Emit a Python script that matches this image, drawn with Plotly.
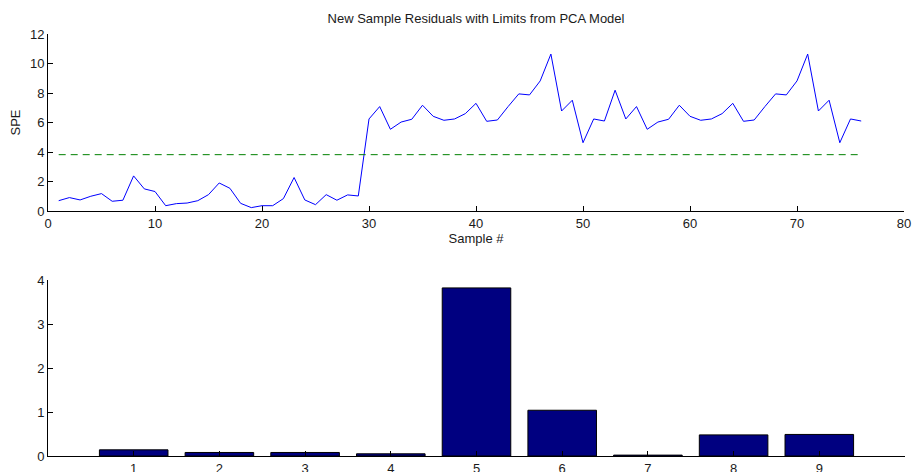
import plotly.graph_objects as go

# Top plot data: SPE per sample
sample = list(range(1, 77))
spe = [0.70, 0.91, 0.75, 1.00, 1.18, 0.66, 0.73, 2.38, 1.50, 1.32,
       0.36, 0.50, 0.54, 0.70, 1.11, 1.90, 1.54, 0.52, 0.23, 0.36,
       0.36, 0.84, 2.27, 0.75, 0.43, 1.11, 0.73, 1.09, 1.02, 6.24,
       7.08, 5.54, 6.03, 6.22, 7.17, 6.42, 6.15, 6.24, 6.60, 7.30,
       6.08, 6.17, 7.08, 7.94, 7.87, 8.82, 10.64, 6.78, 7.51, 4.63,
       6.24, 6.10, 8.19, 6.24, 7.08, 5.54, 6.03, 6.22, 7.17, 6.42,
       6.15, 6.24, 6.60, 7.30, 6.08, 6.17, 7.08, 7.94, 7.87, 8.82,
       10.64, 6.78, 7.51, 4.63, 6.24, 6.10]
spe_limit = 3.82

# Bottom plot data: contributions
variables = [1, 2, 3, 4, 5, 6, 7, 8, 9]
contrib = [0.14, 0.08, 0.08, 0.05, 3.82, 1.04, 0.02, 0.48, 0.49]

FONT = "Liberation Sans, Arial, sans-serif"
FS = 13

fig = go.Figure()
fig.add_trace(go.Scatter(x=sample, y=spe, mode="lines",
                         line=dict(color="#0000ff", width=1),
                         xaxis="x", yaxis="y", showlegend=False))
fig.add_trace(go.Scatter(x=[sample[0], sample[-1]], y=[spe_limit, spe_limit], mode="lines",
                         line=dict(color="#008000", width=1, dash="7px,5px"),
                         xaxis="x", yaxis="y", showlegend=False))
fig.add_trace(go.Bar(x=variables, y=contrib, width=0.8,
                     marker=dict(color="#000080", line=dict(color="#000000", width=1)),
                     xaxis="x2", yaxis="y2", showlegend=False))

axis_common = dict(showline=True, linecolor="#000000", linewidth=1,
                   ticks="inside", tickcolor="#000000", ticklen=5, tickwidth=1,
                   showgrid=False, zeroline=False, mirror=False, automargin=False,
                   tickfont=dict(family=FONT, size=FS, color="#1a1a1a"))

fig.update_layout(
    width=914, height=472,
    margin=dict(l=0, r=0, t=0, b=0, autoexpand=False),
    paper_bgcolor="white", plot_bgcolor="white",
    font=dict(family=FONT, size=FS, color="#000000"),
    title=dict(text="New Sample Residuals with Limits from PCA Model",
               x=476/914, xanchor="center", y=1-18/472, yanchor="middle",
               xref="paper", yref="paper", automargin=False,
               font=dict(family=FONT, size=FS, color="#1a1a1a")),
    xaxis=dict(domain=[48/914, 904/914], range=[0, 80], tickvals=[0, 10, 20, 30, 40, 50, 60, 70, 80],
               anchor="y", title=dict(text="Sample #", standoff=3,
                                      font=dict(family=FONT, size=FS, color="#1a1a1a")),
               **axis_common),
    yaxis=dict(domain=[1-211/472, 1-34/472], range=[0, 12], tickvals=[0, 2, 4, 6, 8, 10, 12],
               anchor="x", title=dict(text="SPE", standoff=6,
                                      font=dict(family=FONT, size=FS, color="#1a1a1a")),
               **axis_common),
    xaxis2=dict(domain=[48/914, 905/914], range=[0, 10], tickvals=variables,
                anchor="y2", **axis_common),
    yaxis2=dict(domain=[1-456/472, 1-280/472], range=[0, 4], tickvals=[0, 1, 2, 3, 4],
                anchor="x2", **axis_common),
)

fig.write_html("out.html")
